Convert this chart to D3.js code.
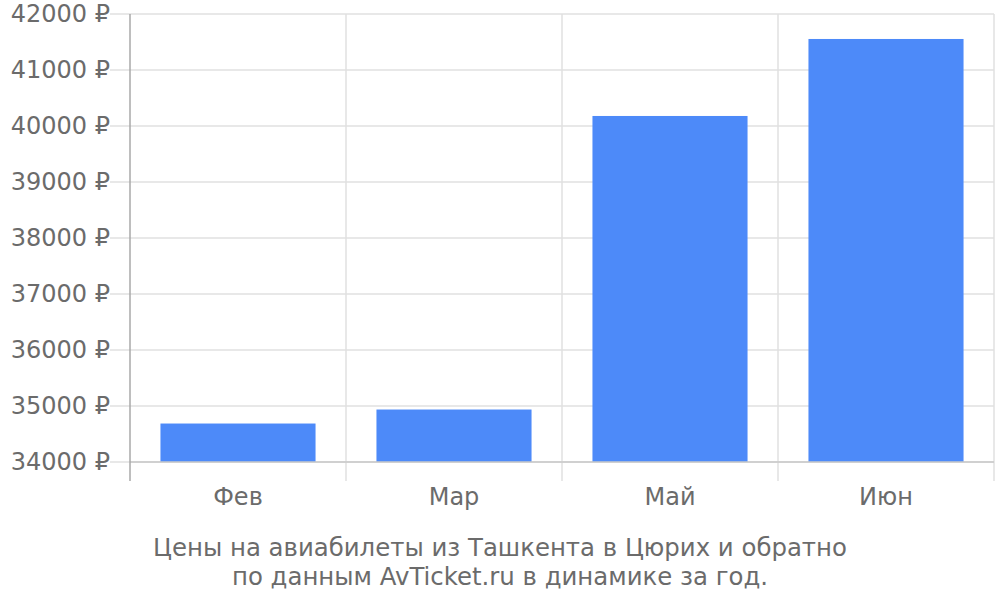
<!DOCTYPE html>
<html><head><meta charset="utf-8">
<script src="https://cdn.jsdelivr.net/npm/d3@7"></script>
<style>body{margin:0;background:#fff}svg{font-family:"DejaVu Sans",sans-serif}</style>
</head><body>
<svg id="c" width="1000" height="600"></svg>
<script>
const categories = ["Фев", "Мар", "Май", "Июн"];
const prices = [34687, 34937, 40179, 41554];
const yTicks = [34000, 35000, 36000, 37000, 38000, 39000, 40000, 41000, 42000];
const captionLines = ["Цены на авиабилеты из Ташкента в Цюрих и обратно", "по данным AvTicket.ru в динамике за год."];

const svg = d3.select("#c");
const L = 130, R = 994, T = 14, B = 462;
const x = d3.scaleBand().domain(categories).range([L, R]);
const y = d3.scaleLinear().domain([34000, 42000]).range([B, T]);

// horizontal grid
svg.append("g").selectAll("line").data(yTicks).join("line")
  .attr("x1", L - 20).attr("x2", R).attr("y1", d => y(d)).attr("y2", d => y(d))
  .attr("stroke", "#e0e0e0").attr("stroke-width", 1.5);
// vertical grid
const vx = categories.map(c => x(c)).concat([R]);
svg.append("g").selectAll("line").data(vx.slice(1)).join("line")
  .attr("x1", d => d).attr("x2", d => d).attr("y1", T).attr("y2", B + 19)
  .attr("stroke", "#e0e0e0").attr("stroke-width", 1.5);

// bars
const bw = x.bandwidth() * 0.718;
svg.append("g").selectAll("rect").data(prices).join("rect")
  .attr("x", (d, i) => x(categories[i]) + (x.bandwidth() - bw) / 2)
  .attr("width", bw)
  .attr("y", d => y(d)).attr("height", d => B - y(d))
  .attr("fill", "#4d8af9");

// baseline
svg.append("line").attr("x1", L).attr("x2", R).attr("y1", B).attr("y2", B)
  .attr("stroke", "#c8c8c8").attr("stroke-width", 1.5);
// left axis line
svg.append("line").attr("x1", L).attr("x2", L).attr("y1", T).attr("y2", B + 19)
  .attr("stroke", "#a8a8a8").attr("stroke-width", 1.5);

// y labels
svg.append("g").selectAll("text").data(yTicks).join("text")
  .attr("x", 110).attr("y", d => y(d)).attr("dy", "0.35em")
  .attr("text-anchor", "end").attr("fill", "#6b6b6b").attr("font-size", 24)
  .text(d => d + " ₽");

// x labels
svg.append("g").selectAll("text").data(categories).join("text")
  .attr("x", d => x(d) + x.bandwidth() / 2).attr("y", 505)
  .attr("text-anchor", "middle").attr("fill", "#6b6b6b").attr("font-size", 24)
  .text(d => d);

// caption
svg.append("g").selectAll("text").data(captionLines).join("text")
  .attr("x", 500).attr("y", (d, i) => 556 + i * 29)
  .attr("text-anchor", "middle").attr("fill", "#6b6b6b").attr("font-size", 24.4)
  .text(d => d);
</script>
</body></html>
